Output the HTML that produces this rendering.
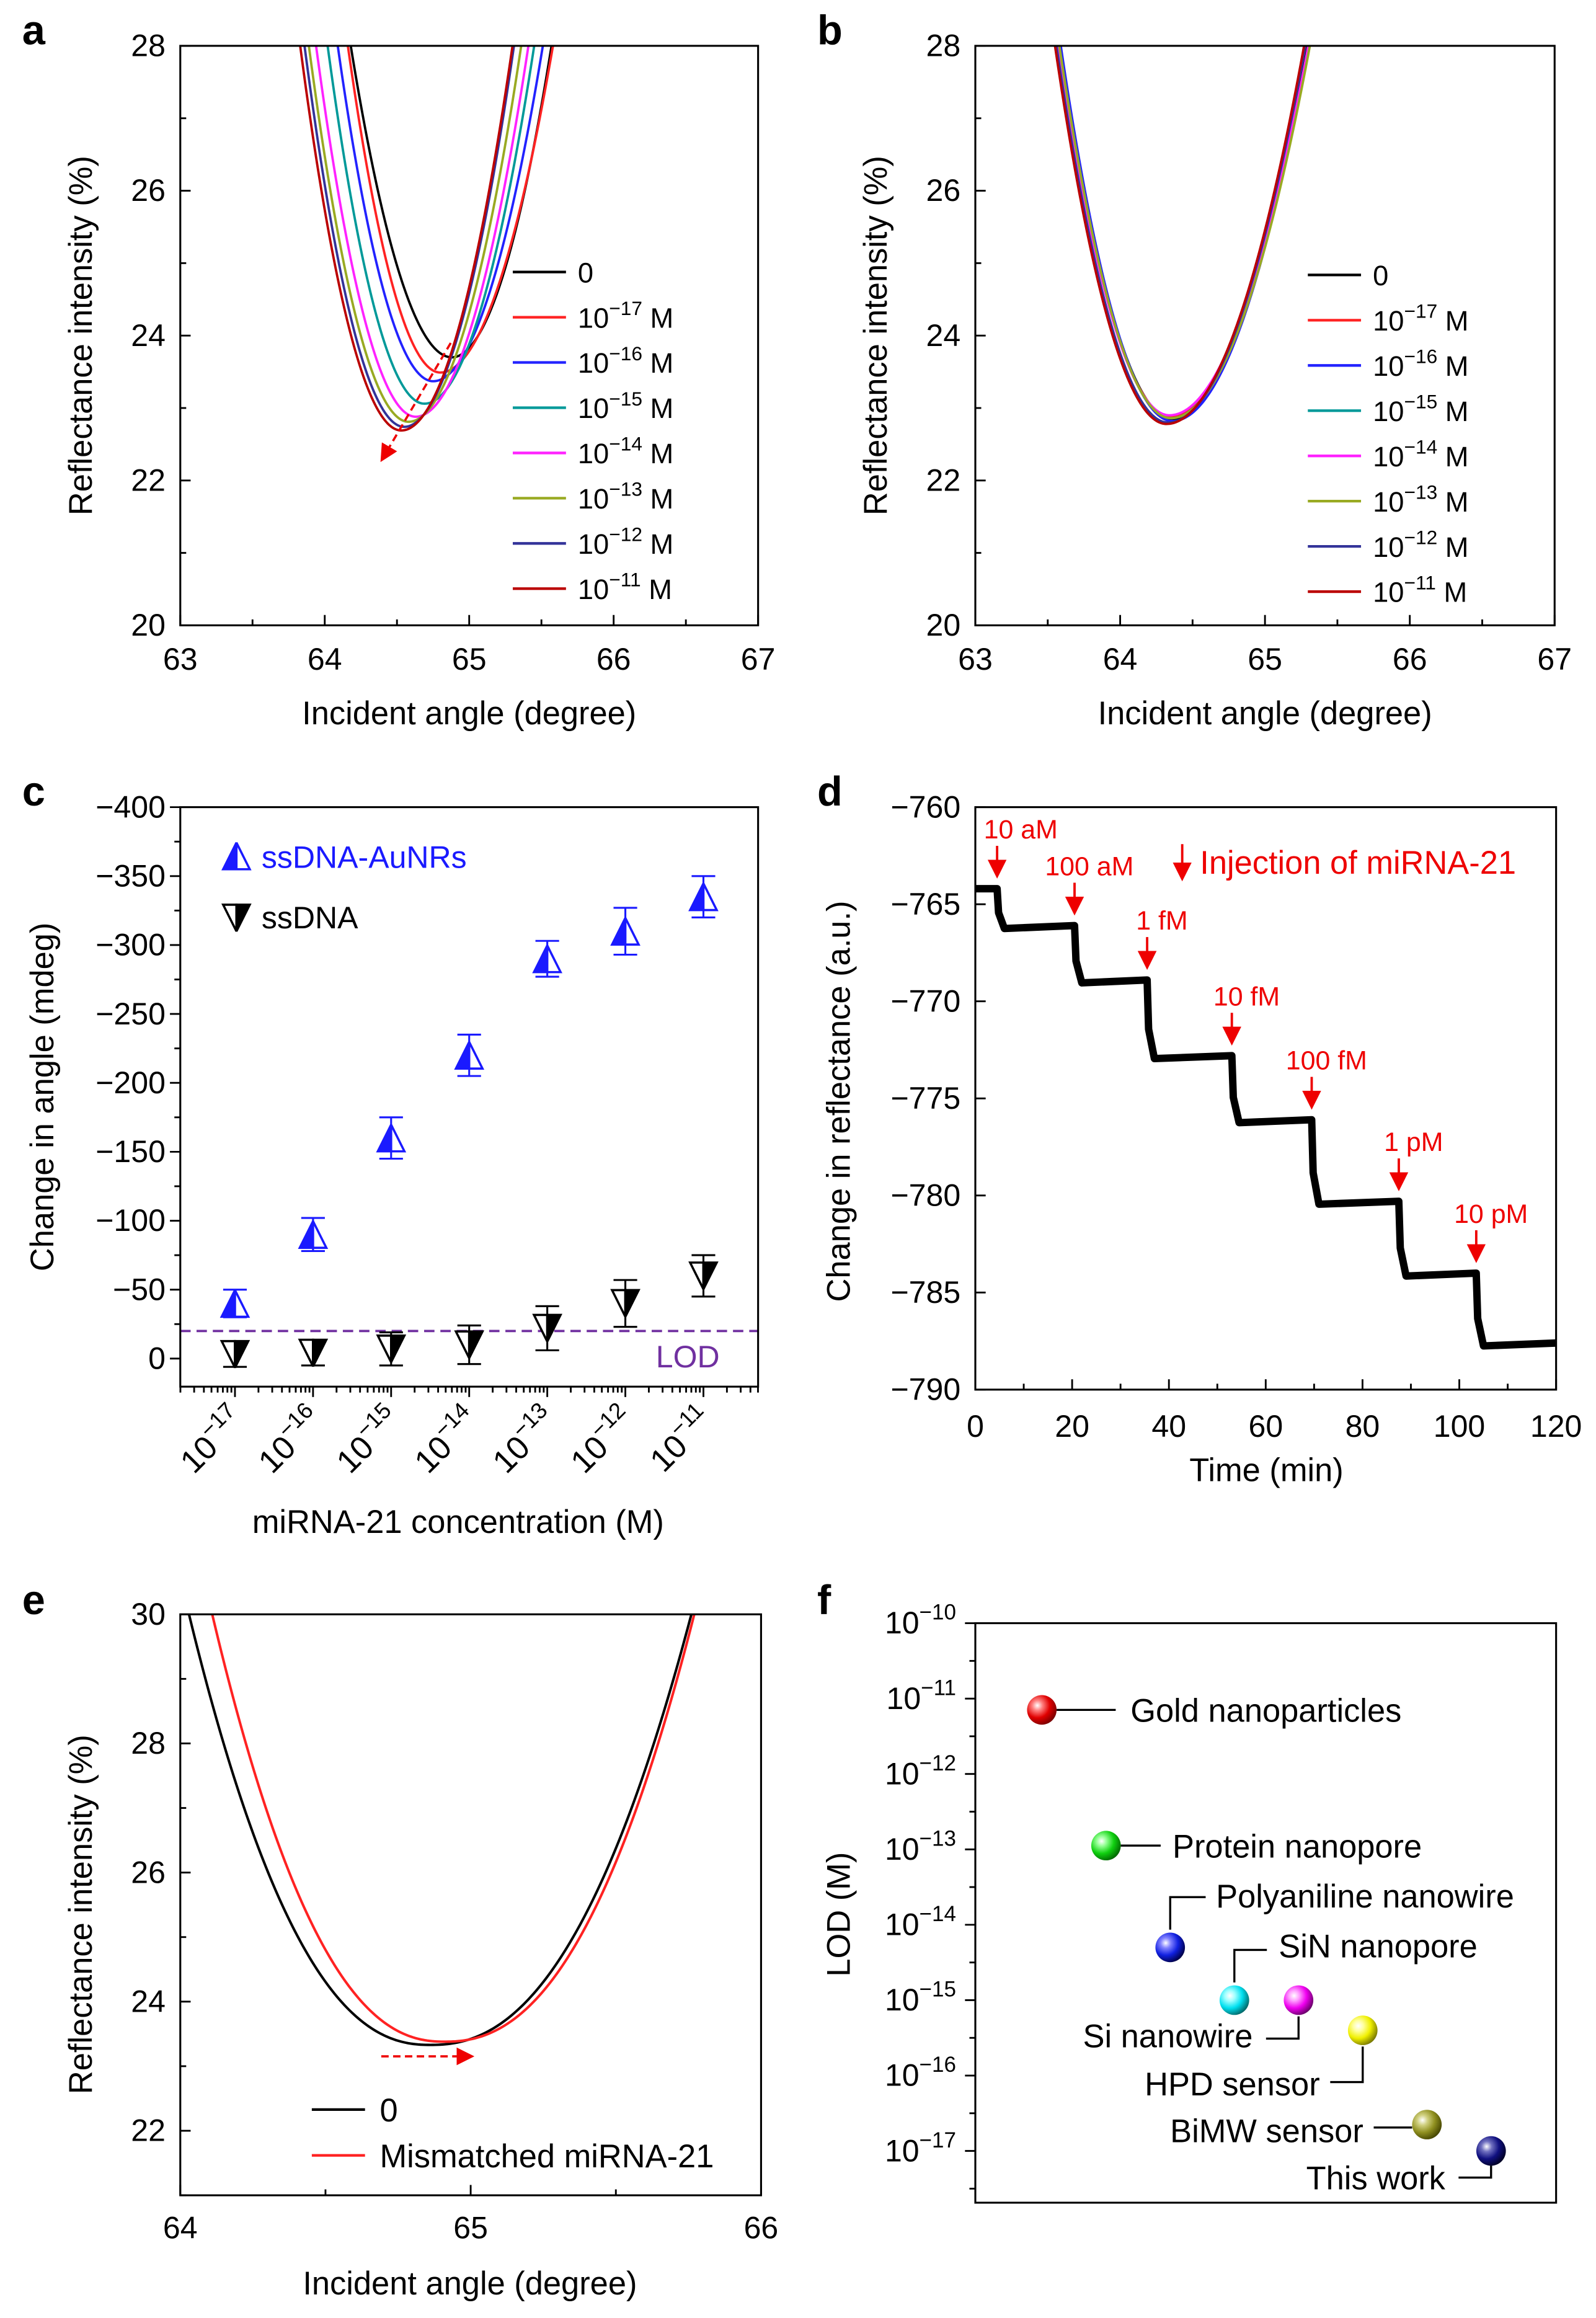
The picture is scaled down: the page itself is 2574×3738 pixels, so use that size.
<!DOCTYPE html>
<html><head><meta charset="utf-8"><style>
html,body{margin:0;padding:0;background:#fff}
svg{display:block}
text{font-family:"Liberation Sans",Arial,sans-serif}
</style></head><body>
<svg id="fig" width="2574" height="3738" viewBox="0 0 1080 1568" preserveAspectRatio="none" xmlns="http://www.w3.org/2000/svg">
<defs>
<clipPath id="clipA"><rect x="122" y="31" width="391" height="392"/></clipPath>
<clipPath id="clipB"><rect x="660" y="31" width="392" height="392"/></clipPath>
<clipPath id="clipE"><rect x="122" y="1092" width="393" height="393"/></clipPath>
<marker id="arrRed" markerWidth="8" markerHeight="8" refX="6" refY="4" orient="auto"><path d="M0,0 L8,4 L0,8 z" fill="#e00"/></marker>
</defs>
</svg>
<script>
// ---------- DATA ----------
const aLabels = ["0","−17","−16","−15","−14","−13","−12","−11"];
const aColors = ["#000","#f22","#22f","#099","#f2f","#9a2","#339","#b00"];
const aMinAngle = [64.88,64.80,64.75,64.69,64.63,64.58,64.55,64.53];
const aMinR = [23.70,23.49,23.37,23.06,22.88,22.81,22.74,22.69];
const aLeftTop = [64.18,64.16,64.09,64.02,63.94,63.89,63.86,63.83];
const aRightTop = [65.57,65.58,65.51,65.45,65.41,65.36,65.31,65.30];
const bMinAngle = [64.36,64.35,64.36,64.35,64.34,64.35,64.33,64.32];
const bMinR = [22.85,22.88,22.82,22.86,22.9,22.86,22.8,22.78];
const bLeftTop = [63.58,63.57,63.59,63.58,63.57,63.58,63.56,63.55];
const bRightTop = [65.29,65.28,65.3,65.3,65.3,65.31,65.28,65.27];
const cExp = [-17,-16,-15,-14,-13,-12,-11];
const cAuNR = [-40,-90,-160,-220,-290,-310,-335];
const cAuNRErr = [10,12,15,15,13,17,15];
const cDNA = [-3,-4,-7,-10,-22,-40,-60];
const cDNAErr = [9,9,12,14,16,17,15];
const cLOD = -20;
const dStepTimes = [0,4.5,20.5,35.5,53,69.5,87.5,103.5,120];
const dLevels = [-764.2,-766.1,-768.9,-772.8,-776.1,-780.3,-784,-787.6];
const dConcLabels = ["10 aM","100 aM","1 fM","10 fM","100 fM","1 pM","10 pM"];
const eNames = ["0","Mismatched miRNA-21"];
const eColors = ["#000","#f22"];
const eMinAngle = [64.86,64.91];
const eMinR = [23.33,23.38];
const eLeftTop = [64.03,64.11];
const eRightTop = [65.76,65.77];
const fNames = ["Gold nanoparticles","Protein nanopore","Polyaniline nanowire","SiN nanopore","Si nanowire","HPD sensor","BiMW sensor","This work"];
const fLODexp = [-11.15,-12.95,-14.3,-15,-15,-15.4,-16.65,-17];
const fColors = [["#ff8080","#e00000","#700"],["#90ff90","#10d010","#060"],["#8080ff","#1020e0","#004"],["#a0ffff","#00e0f0","#066"],["#ffa0ff","#f000f0","#606"],["#ffffa0","#f0f000","#770"],["#d0d080","#909020","#440"],["#7070c0","#101080","#002"]];

// ---------- HELPERS ----------
const NS="http://www.w3.org/2000/svg";
const svg=document.getElementById('fig');
function mk(tag,attrs,parent){const e=document.createElementNS(NS,tag);for(const k in attrs)e.setAttribute(k,attrs[k]);(parent||svg).appendChild(e);return e;}
function lin(d0,d1,p0,p1){return v=>p0+(v-d0)*(p1-p0)/(d1-d0);}
function txt(x,y,s,size,anchor,fill,parent){const t=mk('text',{x:x,y:y,'font-size':size,'text-anchor':anchor||'start',fill:fill||'#000'},parent);t.textContent=s;return t;}
function pow10(t,base,exp,size){const a=document.createElementNS(NS,'tspan');a.textContent=base;t.appendChild(a);const b=document.createElementNS(NS,'tspan');b.setAttribute('dy',-size*0.45);b.setAttribute('font-size',size*0.7);b.textContent=exp;t.appendChild(b);}
function frame(x0,y0,x1,y1,name){const r=mk('rect',{x:x0,y:y0,width:x1-x0,height:y1-y0,fill:'none',stroke:'#000','stroke-width':1.3});


return r;}
function tick(x1,y1,x2,y2,g){mk('line',{x1:x1,y1:y1,x2:x2,y2:y2,stroke:'#000','stroke-width':1.2},g);}
function letter(x,y,s){const t=txt(x,y,s,28,'start','#000');t.setAttribute('font-weight','bold');

}
function dipPath(sx,sy,x0,r0,xl,xr,top,p){let pts=[];for(let i=0;i<=240;i++){const x=xl-0.15+(xr-xl+0.3)*i/240;const xt=x<x0?xl:xr;const r=r0+(top-r0)*Math.pow(Math.abs((x-x0)/(xt-x0)),p);pts.push(sx(x).toFixed(2)+','+sy(r).toFixed(2));}return pts.join(' ');}

// ---------- PANEL A & B ----------
function spPanel(key,X0,X1,minA,minR,lt,rt,clip){
 const g=mk('g',{});
 
 
 const sx=lin(63,67,X0,X1), sy=lin(20,28,423,31);
 for(let i=0;i<8;i++){const pl=mk('polyline',{points:dipPath(sx,sy,minA[i],minR[i],lt[i],rt[i],28,2),fill:'none',stroke:aColors[i],'stroke-width':1.6,'clip-path':'url(#'+clip+')'},g);
  
  }
 frame(X0,31,X1,423,'plot-frame-'+key);
 for(let v=63;v<=67;v+=0.5){const x=sx(v);tick(x,423,x,423-(v%1===0?7:4),g);}
 for(let v=63;v<=67;v++){const t=txt(sx(v),453,String(v),21,'middle','#000',g);}
 for(let v=20;v<=28;v+=1){const y=sy(v);tick(X0,y,X0+(v%2===0?7:4),y,g);}
 for(let v=20;v<=28;v+=2){const t=txt(X0-10,sy(v)+7,String(v),21,'end','#000',g);}
 const xt=txt((X0+X1)/2,490,'Incident angle (degree)',22,'middle','#000',g);
 
 
 const yt=txt(0,0,'Reflectance intensity (%)',22,'middle','#000',g);yt.setAttribute('transform','translate('+(X0-60)+',227) rotate(-90)');
 
 
 const LX=X0+225, LY= key==='a'?184:186;
 for(let i=0;i<8;i++){const y=LY+i*30.6;
  const lg=mk('g',{},g);
  
  
  mk('line',{x1:LX,y1:y,x2:LX+36,y2:y,stroke:aColors[i],'stroke-width':1.8},lg);
  const t=txt(LX+44,y+7,'',19,'start','#000',lg);
  if(i===0)t.textContent='0';else{pow10(t,'10',aLabels[i],19);const s=document.createElementNS(NS,'tspan');s.setAttribute('dy',19*0.45);s.textContent=' M';t.appendChild(s);}
 }
 return g;
}
letter(15,30,'a');letter(553,30,'b');
spPanel('a',122,513,aMinAngle,aMinR,aLeftTop,aRightTop,'clipA');
spPanel('b',660,1052,bMinAngle,bMinR,bLeftTop,bRightTop,'clipB');
const arA=mk('line',{x1:305,y1:232,x2:259,y2:310,stroke:'#e00','stroke-width':1.5,'stroke-dasharray':'5,3','marker-end':'url(#arrRed)'});



// ---------- PANEL C ----------
(function(){
 letter(15,545,'c');
 const g=mk('g',{});
 
 
 const sx=lin(-17,-11,159,476), sy=lin(-400,0,546,919);
 frame(122,546,513,938,'plot-frame-c');
 for(let v=-400;v<=20;v+=25){const y=sy(v);tick(122,y,122-(v%50===0?7:4),y,g);}
 for(let v=-400;v<=0;v+=50){const t=txt(112,sy(v)+7,(v<0?'−':'')+Math.abs(v),21,'end','#000',g);}
 for(let e=-18;e<=-11;e++){for(let k=1;k<10;k++){const v=e+Math.log10(k);const x=sx(v);if(x<122||x>513)continue;tick(x,938,x,938+(k===1?7:4),g);}}
 cExp.forEach(e=>{const x=sx(e);const t=txt(0,0,'',22,'end','#000',g);pow10(t,'10',String(e).replace('-','−'),22);t.setAttribute('transform','translate('+(x+8)+',962) rotate(-45)');});
 const xt=txt(310,1037,'miRNA-21 concentration (M)',22,'middle','#000',g);
 
 
 const yt=txt(0,0,'Change in angle (mdeg)',22,'middle','#000',g);yt.setAttribute('transform','translate(36,742) rotate(-90)');
 
 
 const lod=mk('line',{x1:122,y1:sy(cLOD),x2:513,y2:sy(cLOD),stroke:'#7030a0','stroke-width':1.6,'stroke-dasharray':'7,4'},g);
 
 
 const lt=txt(487,925,'LOD',21,'end','#7030a0',g);
 
 
 function tri(x,y,up,col,parent){const h=9,w=9;const s=up?-1:1;
  mk('path',{d:`M${x},${y+s*h} L${x-w},${y-s*h} L${x},${y-s*h} z`,fill:up?col:'#fff',stroke:col,'stroke-width':1.5},parent);
  mk('path',{d:`M${x},${y+s*h} L${x+w},${y-s*h} L${x},${y-s*h} z`,fill:up?'#fff':col,stroke:col,'stroke-width':1.5},parent);}
 function series(vals,errs,up,col,name){cExp.forEach((e,i)=>{const x=sx(e),y=sy(vals[i]);const pg=mk('g',{},g);
  
  
  const yt2=sy(vals[i]-errs[i]),yb=sy(vals[i]+errs[i]);
  mk('line',{x1:x,y1:yt2,x2:x,y2:yb,stroke:col,'stroke-width':1.3},pg);
  mk('line',{x1:x-8,y1:yt2,x2:x+8,y2:yt2,stroke:col,'stroke-width':1.3},pg);
  mk('line',{x1:x-8,y1:yb,x2:x+8,y2:yb,stroke:col,'stroke-width':1.3},pg);
  tri(x,y,up,col,pg);});}
 series(cAuNR,cAuNRErr,true,'#1a1aff','ssdna-aunrs');
 series(cDNA,cDNAErr,false,'#000','ssdna');
 const l1=mk('g',{},g);
 tri(160,579,true,'#1a1aff',l1);txt(177,587,'ssDNA-AuNRs',21,'start','#1a1aff',l1);
 const l2=mk('g',{},g);
 tri(160,621,false,'#000',l2);txt(177,628,'ssDNA',21,'start','#000',l2);
})();

// ---------- PANEL D ----------
(function(){
 letter(553,545,'d');
 const g=mk('g',{});
 
 
 const sx=lin(0,120,660,1053), sy=lin(-760,-790,546,940);
 let pts=[];
 for(let i=0;i<dLevels.length;i++){const t0=dStepTimes[i],t1=dStepTimes[i+1];
  if(i>0){pts.push([t0+0.3,dLevels[i]+(dLevels[i-1]-dLevels[i])*0.35]);pts.push([t0+1.5,dLevels[i]-0.15]);}
  else pts.push([t0,dLevels[i]]);
  pts.push([t1,dLevels[i]]);}
 const tr=mk('polyline',{points:pts.map(p=>sx(p[0]).toFixed(2)+','+sy(p[1]).toFixed(2)).join(' '),fill:'none',stroke:'#000','stroke-width':5,'stroke-linejoin':'round'},g);
 
 
 frame(660,546,1053,940,'plot-frame-d');
 for(let v=0;v<=120;v+=10){const x=sx(v);tick(x,940,x,940-(v%20===0?7:4),g);}
 for(let v=0;v<=120;v+=20){const t=txt(sx(v),972,String(v),21,'middle','#000',g);}
 for(let v=-790;v<=-760;v+=5){const y=sy(v);tick(660,y,667,y,g);const t=txt(650,y+7,'−'+Math.abs(v),21,'end','#000',g);}
 const xt=txt(857,1002,'Time (min)',22,'middle','#000',g);
 
 
 const yt=txt(0,0,'Change in reflectance (a.u.)',22,'middle','#000',g);yt.setAttribute('transform','translate(575,745) rotate(-90)');
 
 
 dConcLabels.forEach((s,i)=>{const t=dStepTimes[i+1];const x=sx(t);const y=sy(dLevels[i]);
  const ag=mk('g',{},g);
  
  
  mk('line',{x1:x,y1:y-29,x2:x,y2:y-10,stroke:'#e00','stroke-width':1.6,'marker-end':'url(#arrRed)'},ag);
  txt(x+(i===0?16:10),y-34,s,18,'middle','#e00',ag);});
 const ig=mk('g',{},g);
 
 
 mk('line',{x1:800,y1:571,x2:800,y2:593,stroke:'#e00','stroke-width':1.6,'marker-end':'url(#arrRed)'},ig);
 txt(812,591,'Injection of miRNA-21',22,'start','#e00',ig);
})();

// ---------- PANEL E ----------
(function(){
 letter(15,1092,'e');
 const g=mk('g',{});
 
 
 const sx=lin(64,66,122,515), sy=lin(21,30,1485,1092);
 for(let i=0;i<2;i++){const pl=mk('polyline',{points:dipPath(sx,sy,eMinAngle[i],eMinR[i],eLeftTop[i],eRightTop[i],30,2.3),fill:'none',stroke:eColors[i],'stroke-width':1.7,'clip-path':'url(#clipE)'},g);
  
  }
 frame(122,1092,515,1485,'plot-frame-e');
 for(let v=64;v<=66;v+=0.5){const x=sx(v);tick(x,1485,x,1485-(v%1===0?7:4),g);}
 for(let v=64;v<=66;v++){const t=txt(sx(v),1514,String(v),21,'middle','#000',g);}
 for(let v=21;v<=30;v++){const y=sy(v);tick(122,y,122+(v%2===0?7:4),y,g);}
 for(let v=22;v<=30;v+=2){const t=txt(112,sy(v)+7,String(v),21,'end','#000',g);}
 const xt=txt(318,1552,'Incident angle (degree)',22,'middle','#000',g);
 
 
 const yt=txt(0,0,'Reflectance intensity (%)',22,'middle','#000',g);yt.setAttribute('transform','translate(62,1295) rotate(-90)');
 
 
 for(let i=0;i<2;i++){const y=1427+i*31;const lg=mk('g',{},g);
  
  
  mk('line',{x1:211,y1:y,x2:247,y2:y,stroke:eColors[i],'stroke-width':1.8},lg);
  txt(257,y+8,eNames[i],22,'start','#000',lg);}
 const ar=mk('line',{x1:258,y1:1391,x2:318,y2:1391,stroke:'#e00','stroke-width':1.5,'stroke-dasharray':'5,3','marker-end':'url(#arrRed)'},g);
 
 
})();

// ---------- PANEL F ----------
(function(){
 letter(553,1092,'f');
 const g=mk('g',{});
 
 
 const defs=svg.querySelector('defs');
 fColors.forEach((c,i)=>{const rg=mk('radialGradient',{id:'ball'+i,cx:'0.35',cy:'0.35',r:'0.7'},defs);
  mk('stop',{offset:'0',  'stop-color':'#fff'},rg);mk('stop',{offset:'0.25','stop-color':c[0]},rg);mk('stop',{offset:'0.6','stop-color':c[1]},rg);mk('stop',{offset:'1','stop-color':c[2]},rg);});
 const sy=lin(-10,-17,1098,1455);
 const sx=lin(0,7,705,1009);
 frame(660,1098,1053,1490,'plot-frame-f');
 for(let e=-10;e>=-17;e--){const y=sy(e);tick(660,y,653,y,g);const t=txt(647,y+7,'',21,'end','#000',g);pow10(t,'10',String(e).replace('-','−'),21);}
 for(let e=-10.5;e>=-17.5;e--){const y=sy(e);tick(660,y,656,y,g);}
 const yt=txt(0,0,'LOD (M)',22,'middle','#000',g);yt.setAttribute('transform','translate(575,1295) rotate(-90)');
 
 
 const S='#000';
 fNames.forEach((n,i)=>{const x=sx(i),y=sy(fLODexp[i]);
  const bg=mk('g',{},g);
  
  
  let path,tx,ty,anc='start';
  if(i===0){path=`M${x+10},${y} H${x+50}`;tx=x+60;ty=y+8;}
  else if(i===1){path=`M${x+10},${y} H${x+37}`;tx=x+45;ty=y+8;}
  else if(i===2){path=`M${x},${y-12} V${y-34} H${x+24}`;tx=x+31;ty=y-27;}
  else if(i===3){path=`M${x},${y-12} V${y-34} H${x+22}`;tx=x+30;ty=y-29;}
  else if(i===4){path=`M${x},${y+11} V${y+26} H${x-22}`;tx=x-31;ty=y+32;anc='end';}
  else if(i===5){path=`M${x},${y+11} V${y+35} H${x-22}`;tx=x-29;ty=y+44;anc='end';}
  else if(i===6){path=`M${x-10},${y+2} H${x-36}`;tx=x-43;ty=y+12;anc='end';}
  else {path=`M${x},${y+10} V${y+18} H${x-22}`;tx=x-31;ty=y+26;anc='end';}
  mk('path',{d:path,fill:'none',stroke:S,'stroke-width':1.4},bg);
  mk('circle',{cx:x,cy:y,r:10,fill:'url(#ball'+i+')'},bg);
  txt(tx,ty,n,22,anc,'#000',bg);});
})();
</script>
</body></html>
